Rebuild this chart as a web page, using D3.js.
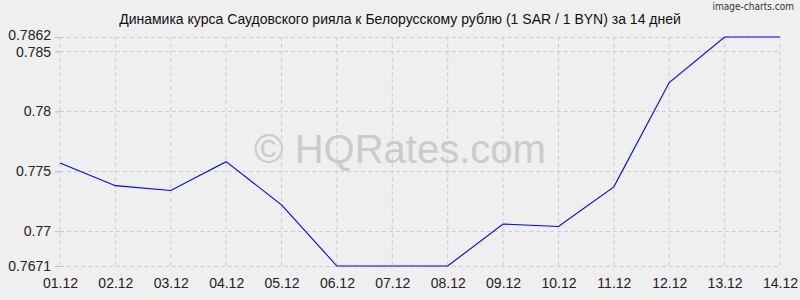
<!DOCTYPE html>
<html>
<head>
<meta charset="utf-8">
<script src="https://cdn.jsdelivr.net/npm/d3@7"></script>
<style>
  body { margin: 0; background: #efefef; }
  svg { display: block; font-family: "Liberation Sans", Arial, sans-serif; }
</style>
</head>
<body>
<div id="container"></div>
<script>
/* DATA */
const dates = ["01.12","02.12","03.12","04.12","05.12","06.12","07.12","08.12","09.12","10.12","11.12","12.12","13.12","14.12"];
const rates = [0.7757, 0.7738, 0.7734, 0.7758, 0.7722, 0.7671, 0.7671, 0.7671, 0.7706, 0.7704, 0.7737, 0.7824, 0.7862, 0.7862];
const yTicks = [0.7671, 0.77, 0.775, 0.78, 0.785, 0.7862];
const title = "Динамика курса Саудовского рияла к Белорусскому рублю (1 SAR / 1 BYN) за 14 дней";

/* CONSTANTS */
const width = 800, height = 300;
const margin = {top: 37, right: 20, bottom: 34, left: 60};

const svg = d3.select("#container").append("svg")
  .attr("width", width)
  .attr("height", height);

svg.append("rect").attr("width", width).attr("height", height).attr("fill", "#efefef");

/* SCALES */
const xScale = d3.scalePoint()
  .domain(dates)
  .range([margin.left, width - margin.right]);

const yScale = d3.scaleLinear()
  .domain([d3.min(yTicks), d3.max(yTicks)])
  .range([height - margin.bottom, margin.top]);

// grid
svg.append("g")
  .selectAll("line")
  .data(dates)
  .join("line")
    .attr("x1", d => xScale(d)).attr("x2", d => xScale(d))
    .attr("y1", margin.top).attr("y2", height - margin.bottom)
    .attr("stroke", "#cccccc")
    .attr("stroke-dasharray", "4,3");

svg.append("g")
  .selectAll("line")
  .data(yTicks)
  .join("line")
    .attr("x1", margin.left).attr("x2", width - margin.right)
    .attr("y1", d => Math.round(yScale(d)) + 0.5).attr("y2", d => Math.round(yScale(d)) + 0.5)
    .attr("stroke", "#cccccc")
    .attr("stroke-dasharray", "4,3");

// axes
const yAxis = svg.append("g")
  .attr("transform", `translate(${margin.left},0)`)
  .call(d3.axisLeft(yScale).tickValues(yTicks).tickFormat(d => String(d)).tickSize(5).tickPadding(4));
yAxis.select(".domain").remove();
yAxis.selectAll("line").attr("stroke", "#bbbbbb");
yAxis.selectAll("text")
  .attr("font-size", 14).attr("fill", "#222").attr("font-family", "Liberation Sans, Arial, sans-serif")
  .attr("y", d => d === 0.7862 ? -2 : d === 0.785 ? 1 : 0);

const xAxis = svg.append("g")
  .attr("transform", `translate(0,${height - margin.bottom})`)
  .call(d3.axisBottom(xScale).tickSize(0).tickPadding(12));
xAxis.select(".domain").remove();
xAxis.selectAll("text").attr("font-size", 14).attr("fill", "#222").attr("font-family", "Liberation Sans, Arial, sans-serif");

// watermark
svg.append("text")
  .attr("x", 400).attr("y", 163)
  .attr("text-anchor", "middle")
  .attr("font-size", 40)
  .attr("fill", "#cbcbcb")
  .text("© HQRates.com");

// line
const line = d3.line()
  .x((d, i) => xScale(dates[i]))
  .y(d => yScale(d));

svg.append("path")
  .datum(rates)
  .attr("fill", "none")
  .attr("stroke", "#0000ff")
  .attr("stroke-width", 1.1)
  .attr("d", line);

// title
svg.append("text")
  .attr("x", 400).attr("y", 24)
  .attr("text-anchor", "middle")
  .attr("font-size", 14)
  .attr("fill", "#111")
  .text(title);

svg.append("text")
  .attr("x", 794).attr("y", 10)
  .attr("text-anchor", "end")
  .attr("font-size", 10)
  .attr("font-family", "DejaVu Sans Condensed, sans-serif")
  .attr("fill", "#333")
  .text("image-charts.com");
</script>
</body>
</html>
